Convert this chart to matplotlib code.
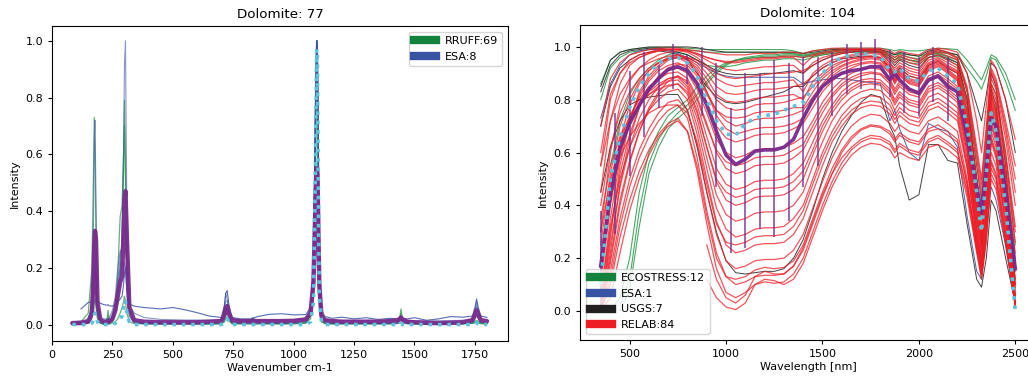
import numpy as np
import matplotlib
matplotlib.use("Agg")
import matplotlib.pyplot as plt
from matplotlib.lines import Line2D

nan = np.nan

# ---------------- Left panel: Raman spectra ----------------
raman_x = [84, 120, 150, 165, 171, 175, 178, 182, 188, 200,
           215, 228, 232, 236, 250, 262, 272, 282, 290, 296,
           300, 304, 310, 320, 340, 380, 450, 500, 550, 600,
           650, 700, 712, 719, 725, 732, 745, 780, 820, 830,
           850, 900, 950, 1000, 1050, 1070, 1082, 1090, 1095, 1098,
           1101, 1106, 1115, 1130, 1160, 1200, 1250, 1300, 1350, 1400,
           1430, 1440, 1444, 1450, 1470, 1500, 1550, 1600, 1650, 1700,
           1740, 1750, 1757, 1764, 1775, 1800]

rruff_1 = [.005, .01, .04, .20, .50, .73, .60, .30, .06, .01,
           .008, .02, .05, .02, .01, .04, .10, .20, .30, .55,
           .70, .55, .20, .05, .01, .005, .005, .005, .005, .005,
           .005, .005, .02, .05, .06, .03, .005, .005, .01, .025,
           .008, .006, .005, .005, .01, .04, .20, .75, 1.0, .90,
           .60, .15, .02, .008, .006, .005, .005, .005, .005, .006,
           .01, .03, .055, .02, .008, .006, .005, .005, .005, .006,
           .008, .01, .015, .01, .006, .005]
rruff_2 = [0, 0, .01, .08, .20, .30, .32, .20, .04, .005,
           0, 0, .01, 0, .01, .05, .18, .38, .42, .60,
           .79, .50, .15, .03, .01, .003, .002, .002, .002, .002,
           .002, .002, .01, .03, .04, .02, .002, .002, .002, .002,
           .002, .002, .002, .002, .005, .03, .15, .60, .95, .85,
           .50, .10, .01, .003, .002, .002, .002, .002, .002, .002,
           .005, .015, .03, .01, .003, .002, .002, .002, .002, .002,
           .004, .006, .01, .006, .003, .002]
rruff_3 = [.002, .003, .008, .02, .05, .08, .09, .06, .02, .005,
           .003, .005, .03, .008, .005, .01, .02, .04, .06, .08,
           .10, .08, .04, .01, .004, .003, .003, .003, .003, .003,
           .003, .004, .008, .02, .025, .012, .004, .004, .008, .02,
           .006, .004, .004, .004, .006, .02, .10, .50, .88, .80,
           .45, .08, .01, .004, .003, .003, .003, .003, .003, .004,
           .006, .02, .04, .012, .004, .003, .003, .003, .003, .004,
           .005, .008, .012, .008, .004, .003]

esa_1 = [nan, .055, .078, .08, .10, .16, .20, .15, .085, .075,
         .07, .068, .07, .066, .065, .07, .08, .09, .10, .14,
         .18, .20, .12, .072, .065, .06, .055, .06, .052, .042,
         .03, .025, .06, .11, .12, .07, .025, .02, .02, .022,
         .028, .036, .038, .034, .035, .06, .20, .75, 1.0, .98,
         .75, .30, .05, .028, .022, .026, .02, .024, .018, .022,
         .02, .025, .03, .022, .02, .024, .015, .02, .028, .026,
         .03, .06, .09, .06, .03, .025]
esa_2 = [.005, .008, .015, .06, .30, .65, .72, .45, .08, .015,
         .008, .008, .01, .01, .03, .08, .15, .24, .28, .60,
         .92, 1.0, .35, .05, .012, .006, .005, .005, .005, .005,
         .006, .008, .05, .11, .09, .05, .01, .006, .006, .006,
         .006, .007, .007, .008, .012, .05, .20, .80, 1.0, 1.0,
         .80, .25, .03, .01, .006, .005, .004, .004, .004, .005,
         .006, .01, .015, .01, .005, .004, .004, .004, .004, .005,
         .008, .04, .08, .04, .01, .006]
esa_3 = [.01, .012, .02, .05, .12, .20, .22, .15, .05, .025,
         .02, .02, .02, .022, .05, .10, .20, .26, .25, .30,
         .35, .33, .20, .07, .04, .025, .018, .017, .016, .016,
         .015, .017, .04, .08, .085, .05, .02, .015, .014, .014,
         .014, .015, .015, .016, .02, .06, .20, .70, .98, .97,
         .70, .22, .04, .018, .015, .014, .014, .013, .013, .014,
         .014, .016, .02, .016, .014, .013, .013, .013, .014, .015,
         .02, .05, .065, .05, .02, .015]
esa_4 = [0, 0, .005, .03, .08, .12, .13, .10, .03, .005,
         .002, .002, .003, .003, .02, .06, .13, .20, .22, .20,
         .22, .20, .10, .03, .005, .002, .002, .002, .002, .002,
         .002, .003, .02, .05, .06, .03, .005, .003, .003, .003,
         .003, .003, .003, .004, .006, .04, .18, .70, .99, 1.0,
         .72, .20, .02, .004, .003, .003, .003, .003, .003, .003,
         .003, .004, .006, .004, .003, .003, .003, .003, .003, .004,
         .006, .02, .03, .02, .006, .004]

raman_mean = [.005, .006, .01, .04, .15, .28, .33, .30, .08, .015,
              .01, .01, .012, .01, .02, .05, .10, .15, .17, .32,
              .44, .47, .30, .06, .015, .01, .008, .008, .008, .008,
              .01, .012, .03, .06, .065, .04, .015, .012, .012, .013,
              .012, .012, .012, .013, .018, .04, .15, .42, .55, .53,
              .40, .14, .03, .015, .012, .01, .01, .01, .01, .012,
              .015, .02, .025, .018, .01, .008, .006, .005, .006, .008,
              .015, .035, .05, .035, .015, .012]
raman_ref = [0, 0, 0, .005, .015, .035, .04, .03, .01, 0,
             0, 0, 0, 0, 0, .005, .01, .02, .03, .06,
             .085, .08, .04, .01, 0, 0, 0, 0, 0, 0,
             0, 0, .005, .015, .02, .01, 0, 0, 0, 0,
             0, 0, 0, 0, 0, .01, .08, .55, .97, .95,
             .6, .1, .01, 0, 0, 0, 0, 0, 0, 0,
             0, 0, .003, 0, 0, 0, 0, 0, 0, 0,
             0, .003, .006, .003, 0, 0]

rruff_lines = [rruff_1, rruff_2, rruff_3]
esa_raman_lines = [esa_1, esa_2, esa_3, esa_4]
left_legend = ["RRUFF:69", "ESA:8"]
left_ticks_x = [0, 250, 500, 750, 1000, 1250, 1500, 1750]

# ---------------- Right panel: reflectance spectra ----------------
wl = [350, 400, 450, 500, 550, 600, 650, 700, 750, 800,
      850, 900, 950, 1000, 1050, 1100, 1150, 1200, 1250, 1300,
      1350, 1400, 1450, 1500, 1550, 1600, 1650, 1700, 1750, 1800,
      1850, 1875, 1900, 1950, 2000, 2050, 2100, 2150, 2200, 2250,
      2300, 2325, 2350, 2375, 2400, 2450, 2500]

relab = [
    [.55, .80, .90, .95, .97, .98, .99, .99, .99, .985,
     .975, .96, .95, .945, .945, .95, .955, .96, .96, .965,
     .965, .96, .97, .98, .985, .99, .99, .99, .99, .99,
     .97, .96, .97, .96, .95, .98, .99, .98, .96, .85,
     .62, .50, .70, .92, .88, .72, .55],
    [.30, .60, .78, .87, .92, .95, .97, .98, .985, .98,
     .96, .93, .90, .885, .88, .885, .89, .895, .90, .90,
     .905, .91, .93, .95, .965, .975, .98, .985, .985, .98,
     .94, .92, .94, .92, .91, .96, .97, .95, .93, .80,
     .55, .42, .62, .88, .84, .65, .40],
    [.15, .45, .65, .78, .86, .91, .94, .96, .97, .96,
     .94, .90, .85, .825, .82, .825, .835, .84, .84, .845,
     .85, .86, .89, .92, .94, .955, .965, .97, .975, .97,
     .93, .90, .925, .90, .89, .94, .955, .93, .91, .76,
     .48, .35, .58, .85, .80, .58, .30],
    [.05, .35, .58, .72, .82, .88, .92, .95, .96, .95,
     .92, .86, .80, .77, .76, .765, .78, .785, .785, .79,
     .80, .81, .85, .89, .92, .94, .955, .96, .965, .96,
     .92, .88, .91, .88, .87, .93, .945, .92, .90, .72,
     .42, .30, .52, .82, .76, .52, .22],
    [.40, .62, .75, .83, .88, .92, .94, .955, .96, .94,
     .90, .83, .76, .72, .70, .71, .725, .73, .73, .735,
     .745, .76, .81, .86, .90, .925, .94, .95, .955, .95,
     .91, .87, .90, .87, .86, .92, .935, .91, .88, .70,
     .40, .28, .50, .80, .74, .50, .18],
    [.10, .40, .60, .73, .81, .87, .91, .93, .94, .92,
     .87, .79, .70, .655, .64, .65, .665, .67, .67, .675,
     .69, .71, .77, .83, .87, .90, .92, .935, .94, .935,
     .90, .86, .89, .86, .85, .91, .925, .90, .87, .68,
     .38, .26, .48, .78, .72, .46, .12],
    [.02, .30, .52, .67, .77, .84, .88, .91, .92, .90,
     .84, .75, .65, .60, .58, .59, .61, .615, .615, .62,
     .635, .66, .72, .79, .84, .875, .90, .915, .92, .915,
     .88, .84, .87, .84, .83, .89, .905, .88, .85, .66,
     .36, .24, .46, .76, .70, .44, .10],
    [.20, .48, .64, .74, .80, .85, .88, .90, .905, .88,
     .81, .71, .60, .54, .52, .53, .55, .555, .555, .56,
     .58, .61, .68, .75, .81, .85, .875, .89, .90, .895,
     .86, .82, .85, .82, .81, .87, .885, .86, .83, .64,
     .34, .22, .44, .74, .68, .42, .08],
    [.00, .25, .47, .62, .73, .80, .85, .88, .89, .86,
     .78, .66, .54, .48, .46, .47, .49, .495, .495, .50,
     .52, .56, .64, .72, .78, .83, .86, .875, .88, .875,
     .84, .80, .83, .80, .79, .85, .865, .84, .81, .62,
     .32, .20, .42, .72, .66, .40, .06],
    [.12, .42, .60, .71, .78, .83, .86, .88, .885, .85,
     .76, .62, .49, .42, .40, .41, .43, .435, .435, .44,
     .46, .50, .59, .68, .75, .80, .835, .855, .86, .855,
     .82, .78, .81, .78, .77, .83, .845, .82, .79, .60,
     .30, .19, .40, .70, .64, .38, .05],
    [.00, .20, .42, .57, .68, .76, .82, .85, .86, .83,
     .73, .58, .44, .365, .34, .35, .37, .375, .375, .38,
     .40, .45, .55, .64, .72, .775, .81, .83, .84, .835,
     .80, .76, .79, .76, .75, .81, .825, .80, .77, .58,
     .30, .18, .38, .68, .62, .36, .04],
    [.35, .55, .66, .73, .78, .82, .84, .855, .86, .82,
     .70, .54, .39, .31, .28, .29, .31, .315, .315, .32,
     .35, .40, .50, .60, .68, .74, .78, .805, .815, .81,
     .78, .74, .77, .74, .73, .79, .805, .78, .75, .56,
     .28, .17, .36, .66, .60, .34, .03],
    [.05, .32, .50, .62, .70, .76, .80, .83, .84, .80,
     .67, .50, .34, .25, .22, .23, .25, .255, .255, .26,
     .29, .35, .45, .55, .64, .70, .745, .77, .78, .775,
     .745, .71, .74, .71, .70, .76, .775, .75, .72, .54,
     .27, .16, .34, .64, .58, .32, .03],
    [.00, .15, .35, .50, .61, .69, .75, .79, .80, .76,
     .63, .45, .29, .19, .16, .17, .19, .195, .195, .20,
     .23, .29, .39, .49, .58, .65, .70, .73, .745, .74,
     .71, .68, .705, .68, .67, .72, .735, .71, .68, .50,
     .25, .15, .32, .60, .55, .30, .02],
    [.20, .45, .58, .66, .71, .75, .77, .78, .78, .73,
     .58, .38, .22, .13, .10, .11, .13, .135, .135, .14,
     .17, .23, .33, .43, .52, .60, .65, .685, .70, .695,
     .67, .64, .665, .64, .63, .68, .69, .665, .64, .48,
     .24, .14, .30, .56, .51, .28, .02],
    [.00, .10, .28, .42, .53, .61, .67, .71, .73, .68,
     .53, .33, .16, .07, .05, .07, .10, .11, .105, .11,
     .14, .20, .30, .40, .49, .56, .61, .64, .655, .65,
     .63, .60, .625, .60, .59, .64, .655, .63, .60, .45,
     .23, .13, .28, .52, .48, .26, .02],
    [nan, nan, nan, nan, nan, nan, nan, nan, nan, nan,
     nan, .12, .05, .015, .005, .03, .10, .12, .115, .10,
     .12, .18, .28, .38, .47, .54, .59, .62, .635, .63,
     .61, .58, .60, .58, .57, .62, .63, .61, .58, .43,
     .22, .12, .26, .50, .46, .25, .02],
    [nan, nan, nan, nan, nan, nan, nan, nan, nan, nan,
     nan, .25, .12, .05, .03, .06, .13, .15, .14, .14,
     .17, .24, .34, .44, .52, .58, .62, .65, .665, .66,
     .64, .61, .635, .61, .60, .65, .665, .64, .61, .46,
     .24, .14, .30, .54, .50, .27, .03],
    [.70, .88, .94, .97, .98, .99, .995, .995, .995, .99,
     .985, .98, .975, .97, .97, .97, .975, .975, .975, .98,
     .98, .975, .985, .99, .995, .995, .995, .995, .995, .995,
     .985, .975, .985, .975, .97, .99, .995, .99, .98, .90,
     .72, .60, .78, .95, .92, .80, .65],
    [.60, .82, .90, .94, .96, .975, .985, .99, .99, .985,
     .97, .95, .93, .915, .91, .915, .92, .925, .925, .93,
     .93, .90, .94, .96, .97, .98, .985, .99, .99, .985,
     .955, .94, .955, .94, .93, .97, .98, .965, .95, .83,
     .58, .45, .66, .90, .86, .68, .45],
    [.00, .28, .55, .72, .83, .89, .93, .955, .965, .96,
     .95, .92, .88, .86, .85, .855, .86, .865, .865, .87,
     .875, .83, .90, .93, .95, .96, .97, .975, .98, .975,
     .94, .91, .93, .91, .90, .95, .96, .94, .92, .78,
     .50, .38, .60, .86, .82, .60, .32],
    [.00, .18, .40, .56, .68, .77, .83, .87, .89, .87,
     .80, .70, .61, .565, .55, .56, .58, .585, .585, .59,
     .61, .63, .70, .77, .82, .86, .885, .90, .905, .90,
     .87, .83, .86, .83, .82, .88, .895, .87, .84, .65,
     .35, .23, .45, .75, .69, .43, .09],
    [.55, .72, .82, .88, .92, .94, .955, .965, .97, .955,
     .91, .83, .74, .69, .67, .68, .69, .695, .695, .70,
     .71, .73, .79, .85, .89, .915, .93, .94, .945, .94,
     .905, .865, .895, .865, .855, .915, .93, .905, .875, .69,
     .39, .27, .49, .79, .73, .48, .15],
    [.30, .50, .63, .72, .78, .82, .85, .87, .875, .84,
     .75, .62, .50, .45, .43, .44, .46, .465, .465, .47,
     .49, .53, .61, .70, .765, .815, .845, .865, .87, .865,
     .83, .79, .82, .79, .78, .84, .855, .83, .80, .61,
     .31, .195, .41, .71, .65, .39, .055],
    [.00, .12, .32, .47, .58, .66, .72, .76, .78, .75,
     .64, .48, .33, .26, .25, .26, .28, .285, .285, .29,
     .32, .38, .48, .58, .66, .72, .76, .785, .795, .79,
     .76, .725, .755, .725, .715, .775, .79, .765, .735, .55,
     .275, .165, .35, .65, .59, .33, .03],
    [.00, .05, .22, .38, .50, .59, .66, .70, .72, .68,
     .55, .36, .20, .13, .12, .13, .155, .165, .16, .165,
     .19, .25, .35, .45, .54, .61, .66, .69, .705, .70,
     .68, .65, .675, .65, .64, .69, .705, .68, .65, .485,
     .245, .145, .31, .57, .52, .29, .02],
    [.45, .72, .86, .93, .96, .975, .985, .99, .99, .985,
     .975, .96, .95, .94, .94, .945, .95, .955, .955, .96,
     .96, .93, .965, .975, .98, .985, .99, .99, .99, .99,
     .965, .95, .965, .95, .94, .975, .985, .975, .955, .84,
     .60, .48, .68, .91, .87, .70, .50],
    [.25, .52, .70, .80, .87, .91, .94, .955, .96, .955,
     .93, .88, .82, .795, .79, .795, .805, .81, .81, .815,
     .82, .80, .87, .90, .93, .945, .955, .96, .965, .96,
     .925, .89, .915, .89, .88, .935, .95, .925, .905, .74,
     .45, .32, .55, .83, .78, .55, .26],
    [.00, .22, .48, .65, .77, .84, .89, .92, .935, .93,
     .89, .82, .76, .735, .73, .735, .75, .755, .755, .76,
     .77, .77, .83, .88, .91, .93, .945, .955, .96, .955,
     .915, .875, .905, .875, .865, .925, .94, .915, .885, .70,
     .41, .29, .51, .81, .75, .51, .20],
]

ecostress = [
    [.86, .95, .98, .99, .995, .997, .998, .998, .998, .995,
     .993, .99, .99, .99, .99, .99, .99, .99, .99, .99,
     .985, .975, .985, .99, .993, .995, .995, .995, .995, .995,
     .99, .985, .99, .985, .985, .99, .995, .993, .99, .95,
     .90, .875, .92, .97, .96, .90, .80],
    [.80, .92, .96, .98, .985, .99, .99, .99, .99, .988,
     .985, .98, .98, .98, .98, .98, .98, .98, .98, .98,
     .975, .965, .975, .98, .985, .985, .985, .985, .985, .985,
     .975, .97, .975, .97, .965, .975, .98, .975, .97, .92,
     .87, .84, .89, .96, .95, .87, .76],
    [nan, nan, .00, .08, .32, .52, .62, .69, .73, .76,
     .80, .86, .90, .93, .95, .96, .965, .97, .97, .975,
     .975, .97, .975, .98, .985, .99, .99, .99, .99, .99,
     .975, .96, .975, .96, .955, .98, .985, .975, .96, .83,
     .55, .42, .60, .86, .82, .60, .25],
    [nan, nan, .02, .12, .38, .56, .65, .71, .75, .78,
     .82, .87, .91, .935, .95, .955, .96, .965, .965, .97,
     .97, .965, .97, .975, .98, .985, .985, .985, .985, .985,
     .965, .95, .965, .95, .945, .97, .975, .96, .94, .78,
     .45, .30, .52, .78, .70, .40, .05],
    [nan, .00, .05, .20, .45, .60, .68, .74, .77, .80,
     .85, .89, .92, .94, .95, .955, .96, .96, .96, .965,
     .965, .96, .965, .97, .975, .98, .98, .98, .98, .98,
     .96, .94, .955, .94, .935, .96, .965, .95, .93, .75,
     .42, .28, .50, .76, .68, .38, .04],
    [nan, .55, .72, .82, .88, .92, .95, .97, .98, .97,
     .95, .93, .925, .925, .93, .94, .945, .95, .95, .955,
     .955, .95, .96, .97, .975, .98, .98, .98, .98, .98,
     .965, .95, .96, .95, .945, .97, .975, .965, .95, .80,
     .50, .36, .56, .82, .76, .50, .12],
]

esa_refl = [
    [.73, .86, .93, .97, .985, .99, .99, .985, .975, .96,
     .94, .92, .90, .89, .885, .885, .885, .885, .885, .885,
     .885, .86, .87, .875, .88, .88, .875, .87, .865, .86,
     .72, .76, .69, .60, .57, .71, .69, .68, .62, .36,
     .15, .12, .30, .47, .42, .25, .03],
]

usgs = [
    [.85, .95, .98, .99, .995, 1.0, 1.0, 1.0, 1.0, 1.0,
     .997, .99, .985, .98, .98, .98, .98, .98, .98, .98,
     .98, .975, .98, .985, .99, .99, .99, .99, .99, .99,
     .98, .97, .98, .97, .965, .985, .99, .98, .97, .90,
     .78, .72, .82, .94, .92, .80, .60],
    [.83, .93, .97, .985, .99, .995, .995, .99, .98, .97,
     .95, .93, .91, .90, .895, .895, .895, .90, .90, .905,
     .91, .90, .93, .95, .965, .975, .98, .985, .985, .98,
     .95, .93, .95, .93, .92, .96, .97, .955, .94, .80,
     .50, .35, .60, .90, .85, .55, .10],
    [.70, .85, .92, .95, .97, .98, .985, .98, .97, .95,
     .90, .85, .81, .79, .785, .79, .80, .81, .82, .83,
     .85, .85, .89, .92, .94, .955, .96, .965, .965, .96,
     .92, .89, .92, .89, .88, .93, .945, .92, .90, .72,
     .40, .25, .50, .84, .78, .45, .05],
    [.45, .62, .72, .78, .80, .81, .815, .82, .82, .76,
     .62, .45, .30, .19, .145, .14, .145, .15, .15, .16,
     .20, .27, .38, .50, .60, .68, .74, .79, .82, .81,
     .70, .66, .55, .42, .44, .63, .63, .57, .56, .33,
     .12, .09, .20, .42, .38, .20, .03],
]

refl_mean = [.17, .44, .62, .71, .78, .84, .88, .915, .925, .91,
             .86, .78, .68, .59, .555, .575, .605, .61, .61, .62,
             .65, .73, .80, .85, .88, .90, .91, .915, .925, .925,
             .875, .90, .875, .84, .825, .875, .89, .85, .83, .66,
             .47, .37, .55, .73, .70, .45, .16]
refl_ref = [.10, .50, .66, .77, .85, .90, .94, .955, .96, .94,
            .89, .80, .72, .67, .665, .71, .73, .74, .745, .76,
            .775, .79, .85, .90, .94, .96, .97, .975, .97, .965,
            .91, .905, .92, .88, .87, .91, .92, .89, .86, .70,
            .45, .30, .52, .75, .68, .40, .00]

err_x = [350, 425, 500, 575, 650, 725, 800, 875, 950, 1025, 1100, 1175, 1250,
         1325, 1400, 1475, 1550, 1625, 1700, 1775, 1850, 1925, 2000, 2075, 2150]
err_lo = [0.0, 0.29, 0.51, 0.66, 0.77, 0.84, 0.86, 0.74, 0.47, 0.22, 0.24, 0.31, 0.28,
          0.34, 0.47, 0.55, 0.74, 0.82, 0.84, 0.84, 0.81, 0.75, 0.74, 0.79, 0.72]
err_hi = [0.38, 0.75, 0.91, 0.98, 0.93, 1.01, 0.97, 1.0, 0.94, 0.77, 0.90, 0.90, 0.95,
          0.94, 0.96, 0.96, 0.98, 1.01, 1.02, 1.03, 0.99, 0.98, 0.96, 1.0, 0.96]

right_legend = ["ECOSTRESS:12", "ESA:1", "USGS:7", "RELAB:84"]
right_ticks_x = [500, 1000, 1500, 2000, 2500]

# ---------------- styling ----------------
GREEN = "#13823d"
BLUE = "#3953a4"
BLACK = "#231f20"
RED = "#ee1c25"
PURPLE = "#782a8c"
CYAN = "#5cc3dc"

plt.rcParams.update({
    "font.family": ["DejaVu Sans"],
    "font.size": 8,
    "axes.titlesize": 9.6,
    "axes.labelsize": 8,
    "xtick.labelsize": 8,
    "ytick.labelsize": 8,
    "legend.fontsize": 8,
    "axes.linewidth": 0.8,
    "xtick.major.size": 3,
    "ytick.major.size": 3,
    "xtick.major.width": 0.8,
    "ytick.major.width": 0.8,
})

fig = plt.figure(figsize=(10.28, 3.79), dpi=100)
ax1 = fig.add_axes([52 / 1028, 38 / 379, 456 / 1028, 315 / 379])
ax2 = fig.add_axes([580 / 1028, 39 / 379, 456 / 1028, 315 / 379])

# left
for y in rruff_lines:
    ax1.plot(raman_x, y, color="#2f9a50", lw=0.9, alpha=0.75)
for i, y in enumerate(esa_raman_lines):
    ax1.plot(raman_x, y, color=BLUE, lw=0.8, alpha=0.85 if i == 0 else 0.6)
ax1.plot(raman_x, raman_mean, color=PURPLE, lw=3.2, alpha=0.95, solid_capstyle="round")
ax1.plot(raman_x, raman_ref, color=CYAN, lw=2.6, ls=(0, (1, 1.6)))
ax1.set_xlim(0, 1887)
ax1.set_ylim(-0.058, 1.052)
ax1.set_xticks(left_ticks_x)
ax1.set_yticks([0.0, 0.2, 0.4, 0.6, 0.8, 1.0])
ax1.set_title("Dolomite: 77")
ax1.set_xlabel("Wavenumber cm-1", labelpad=2)
ax1.set_ylabel("Intensity")
h1 = [Line2D([], [], color=GREEN, lw=6), Line2D([], [], color=BLUE, lw=6)]
ax1.legend(h1, left_legend, loc="upper right")

# right
for y in ecostress:
    ax2.plot(wl, y, color="#2a9a4a", lw=0.8, alpha=0.85)
for y in esa_refl:
    ax2.plot(wl, y, color=BLUE, lw=0.7, alpha=0.9)
for y in usgs:
    ax2.plot(wl, y, color=BLACK, lw=0.7, alpha=0.85)
for y in relab:
    ax2.plot(wl, y, color=RED, lw=0.9, alpha=0.75)
ax2.vlines(err_x, err_lo, err_hi, color=PURPLE, lw=1.1, alpha=0.9)
ax2.plot(wl, refl_mean, color=PURPLE, lw=2.6, alpha=0.95)
ax2.plot(wl, refl_ref, color=CYAN, lw=2.6, ls=(0, (1, 1.6)))
ax2.set_xlim(242.5, 2607.5)
ax2.set_ylim(-0.11, 1.083)
ax2.set_xticks(right_ticks_x)
ax2.set_yticks([0.0, 0.2, 0.4, 0.6, 0.8, 1.0])
ax2.set_title("Dolomite: 104")
ax2.set_xlabel("Wavelength [nm]", labelpad=2)
ax2.set_ylabel("Intensity")
h2 = [Line2D([], [], color=GREEN, lw=6), Line2D([], [], color=BLUE, lw=6),
      Line2D([], [], color=BLACK, lw=6), Line2D([], [], color=RED, lw=6)]
ax2.legend(h2, right_legend, loc="lower left")

fig.savefig("out.png", dpi=100)
